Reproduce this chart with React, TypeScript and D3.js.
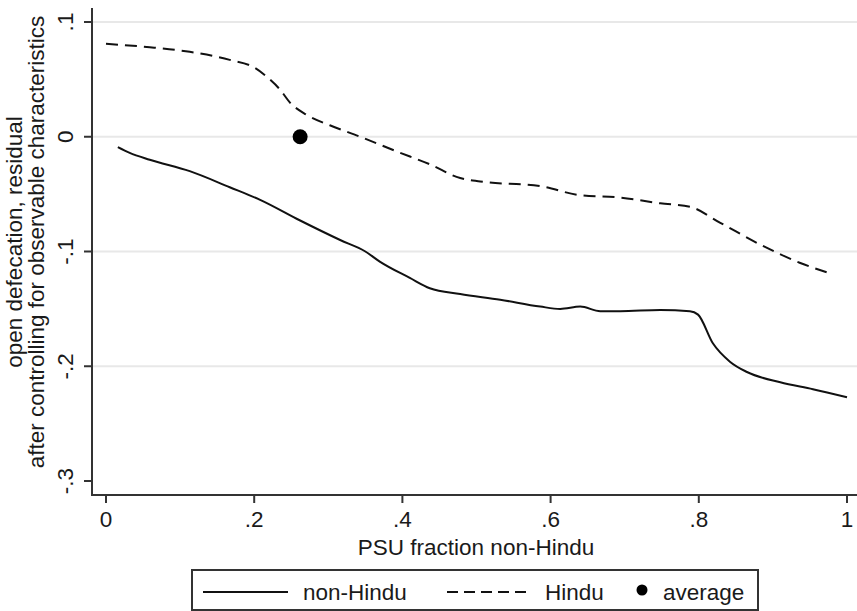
import React from "react";
import * as d3 from "d3";
import { useEffect, useRef } from "react";

// PSU fraction non-Hindu (x) vs open defecation residual (y)
const nonHinduX = [0.016, 0.032, 0.059, 0.113, 0.167, 0.208, 0.262, 0.316, 0.35, 0.37, 0.41, 0.437, 0.478, 0.532, 0.586, 0.613, 0.64, 0.667, 0.694, 0.748, 0.788, 0.799, 0.819, 0.842, 0.865, 0.91, 0.954, 1.0];
const nonHinduY = [-0.009, -0.014, -0.02, -0.03, -0.044, -0.055, -0.073, -0.09, -0.1, -0.109, -0.123, -0.132, -0.137, -0.142, -0.148, -0.15, -0.148, -0.152, -0.152, -0.151, -0.152, -0.155, -0.18, -0.196, -0.205, -0.214, -0.22, -0.227];

const hinduX = [0.0, 0.059, 0.113, 0.167, 0.201, 0.221, 0.235, 0.248, 0.271, 0.302, 0.343, 0.393, 0.437, 0.478, 0.505, 0.586, 0.64, 0.694, 0.748, 0.788, 0.829, 0.883, 0.937, 0.977];
const hinduY = [0.081, 0.078, 0.074, 0.067, 0.06, 0.05, 0.041, 0.03, 0.019, 0.01, 0.0, -0.013, -0.024, -0.036, -0.039, -0.043, -0.051, -0.053, -0.058, -0.061, -0.075, -0.094, -0.11, -0.119];

const averageX = [0.262];
const averageY = [0.0];

const xTicks = [0, 0.2, 0.4, 0.6, 0.8, 1];
const xTickLabels = ["0", ".2", ".4", ".6", ".8", "1"];
const yTicks = [0.1, 0, -0.1, -0.2, -0.3];
const yTickLabels = [".1", "0", "-.1", "-.2", "-.3"];
const gridValues = [0.1, 0, -0.1, -0.2];

const FONT = "'Liberation Sans', Arial, Helvetica, sans-serif";
const FS = 22.5;

function App() {
  const svgRef = useRef(null);
  const width = 857;
  const height = 611;

  useEffect(() => {
    const svg = d3.select(svgRef.current);
    svg.selectAll("*").remove();

    const axisLeftX = 92;
    const axisBottomY = 495;

    const xScale = d3.scaleLinear().domain([0, 1]).range([106, 847]);
    const yScale = d3.scaleLinear().domain([-0.3, 0.1]).range([481, 22]);

    // grid lines
    svg.append("g")
      .selectAll("line")
      .data(gridValues)
      .join("line")
      .attr("x1", axisLeftX)
      .attr("x2", width)
      .attr("y1", (d) => yScale(d))
      .attr("y2", (d) => yScale(d))
      .attr("stroke", "#e8e8e8")
      .attr("stroke-width", 2);

    const line = d3.line()
      .curve(d3.curveMonotoneX)
      .x((d) => xScale(d[0]))
      .y((d) => yScale(d[1]));

    const nonHindu = nonHinduX.map((x, i) => [x, nonHinduY[i]]);
    const hindu = hinduX.map((x, i) => [x, hinduY[i]]);

    svg.append("path")
      .datum(nonHindu)
      .attr("fill", "none")
      .attr("stroke", "#111")
      .attr("stroke-width", 2)
      .attr("d", line);

    svg.append("path")
      .datum(hindu)
      .attr("fill", "none")
      .attr("stroke", "#111")
      .attr("stroke-width", 2)
      .attr("stroke-dasharray", "12,7")
      .attr("d", line);

    svg.append("g")
      .selectAll("circle")
      .data(averageX.map((x, i) => [x, averageY[i]]))
      .join("circle")
      .attr("cx", (d) => xScale(d[0]))
      .attr("cy", (d) => yScale(d[1]))
      .attr("r", 7.5)
      .attr("fill", "#000");

    // axes
    const axisColor = "#333";
    svg.append("line")
      .attr("x1", axisLeftX).attr("x2", axisLeftX)
      .attr("y1", 8).attr("y2", axisBottomY + 1)
      .attr("stroke", axisColor).attr("stroke-width", 2);
    svg.append("line")
      .attr("x1", axisLeftX - 1).attr("x2", width)
      .attr("y1", axisBottomY).attr("y2", axisBottomY)
      .attr("stroke", axisColor).attr("stroke-width", 2);

    const yt = svg.append("g");
    yt.selectAll("line")
      .data(yTicks)
      .join("line")
      .attr("x1", axisLeftX - 8).attr("x2", axisLeftX)
      .attr("y1", (d) => yScale(d)).attr("y2", (d) => yScale(d))
      .attr("stroke", axisColor).attr("stroke-width", 2);
    yt.selectAll("text")
      .data(yTicks)
      .join("text")
      .attr("transform", (d) => `translate(73,${yScale(d)}) rotate(-90)`)
      .attr("text-anchor", "middle")
      .attr("font-family", FONT)
      .attr("font-size", FS)
      .attr("fill", "#1a1a1a")
      .text((d, i) => yTickLabels[i]);

    const xt = svg.append("g");
    xt.selectAll("line")
      .data(xTicks)
      .join("line")
      .attr("x1", (d) => xScale(d)).attr("x2", (d) => xScale(d))
      .attr("y1", axisBottomY).attr("y2", axisBottomY + 8)
      .attr("stroke", axisColor).attr("stroke-width", 2);
    xt.selectAll("text")
      .data(xTicks)
      .join("text")
      .attr("x", (d) => xScale(d))
      .attr("y", 527)
      .attr("text-anchor", "middle")
      .attr("font-family", FONT)
      .attr("font-size", FS)
      .attr("fill", "#1a1a1a")
      .text((d, i) => xTickLabels[i]);

    // axis titles
    svg.append("text")
      .attr("x", 476).attr("y", 555)
      .attr("text-anchor", "middle")
      .attr("font-family", FONT).attr("font-size", FS).attr("fill", "#1a1a1a")
      .text("PSU fraction non-Hindu");

    svg.append("text")
      .attr("transform", "translate(22,242) rotate(-90)")
      .attr("text-anchor", "middle")
      .attr("font-family", FONT).attr("font-size", FS).attr("fill", "#1a1a1a")
      .text("open defecation, residual");
    svg.append("text")
      .attr("transform", "translate(44,242) rotate(-90)")
      .attr("text-anchor", "middle")
      .attr("font-family", FONT).attr("font-size", FS).attr("fill", "#1a1a1a")
      .text("after controlling for observable characteristics");

    // legend
    const lg = svg.append("g");
    lg.append("rect")
      .attr("x", 192).attr("y", 570)
      .attr("width", 566).attr("height", 40)
      .attr("fill", "#fff")
      .attr("stroke", axisColor).attr("stroke-width", 2);
    lg.append("line")
      .attr("x1", 203).attr("x2", 288).attr("y1", 592).attr("y2", 592)
      .attr("stroke", "#111").attr("stroke-width", 2);
    lg.append("text")
      .attr("x", 303).attr("y", 600)
      .attr("font-family", FONT).attr("font-size", FS).attr("fill", "#1a1a1a")
      .text("non-Hindu");
    lg.append("line")
      .attr("x1", 447).attr("x2", 530).attr("y1", 592).attr("y2", 592)
      .attr("stroke", "#111").attr("stroke-width", 2)
      .attr("stroke-dasharray", "11,6");
    lg.append("text")
      .attr("x", 545).attr("y", 600)
      .attr("font-family", FONT).attr("font-size", FS).attr("fill", "#1a1a1a")
      .text("Hindu");
    lg.append("circle")
      .attr("cx", 642).attr("cy", 590).attr("r", 5.5)
      .attr("fill", "#000");
    lg.append("text")
      .attr("x", 663).attr("y", 600)
      .attr("font-family", FONT).attr("font-size", FS).attr("fill", "#1a1a1a")
      .text("average");
  }, []);

  return (
    <svg ref={svgRef}
      style={{ position: "absolute", left: 0, top: 0, background: "#fff" }}
      width={width}
      height={height}
    ></svg>
  );
}

export default App;
